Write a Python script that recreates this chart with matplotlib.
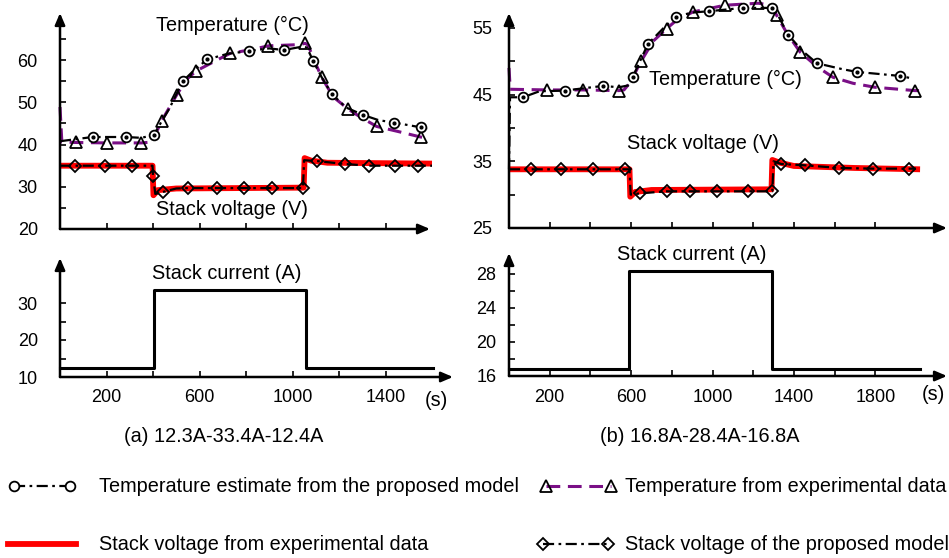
import matplotlib
matplotlib.use("Agg")
import matplotlib.pyplot as plt
from matplotlib.lines import Line2D

plt.rcParams['font.family'] = ['Liberation Sans', 'DejaVu Sans']

# ---------------- data: case (a) ----------------
a_temp_exp_t = [0, 8, 69, 200, 350, 395, 437, 502, 546, 584, 674, 731, 831, 896,
                1032, 1054, 1067, 1089, 1125, 1175, 1240, 1290, 1362, 1462, 1551, 1580]
a_temp_exp_v = [48.9, 40.6, 40.5, 40.4, 40.4, 40.6, 45.6, 51.8, 55.5, 57.4, 60.0, 61.6, 62.6, 63.4,
                63.7, 64.0, 63.6, 60.5, 56.0, 51.3, 48.4, 46.6, 44.3, 43.0, 41.8, 41.5]
a_temp_exp_marks = [69, 200, 350, 437, 502, 584, 731, 896, 1054, 1125, 1240, 1362, 1551]

a_temp_mod_t = [0, 140, 284, 350, 404, 437, 470, 528, 580, 634, 720, 814, 900, 963,
                1040, 1062, 1089, 1125, 1169, 1230, 1305, 1370, 1438, 1551, 1580]
a_temp_mod_v = [40.8, 41.8, 41.8, 41.6, 42.3, 45.5, 48.5, 55.0, 57.8, 60.2, 61.5, 62.2, 62.8, 62.4,
                63.2, 63.0, 59.8, 56.0, 52.0, 48.8, 47.0, 45.8, 45.2, 44.1, 43.8]
a_temp_mod_marks = [140, 284, 404, 528, 634, 814, 963, 1089, 1169, 1305, 1438, 1551]

a_volt_exp_t = [0, 398, 402, 420, 500, 1048, 1052, 1080, 1150, 1600]
a_volt_exp_v = [35.0, 35.0, 28.0, 29.2, 29.6, 29.8, 36.8, 36.2, 35.7, 35.5]

a_volt_mod_t = [0, 64, 194, 308, 398, 400, 410, 444, 500, 551, 674, 792, 910, 1045,
                1050, 1105, 1225, 1330, 1440, 1540, 1600]
a_volt_mod_v = [35.0, 35.0, 35.0, 35.0, 35.0, 32.6, 28.3, 28.8, 29.6, 29.7, 29.7, 29.7, 29.7, 29.7,
                36.3, 36.1, 35.4, 35.0, 35.0, 35.0, 35.0]
a_volt_mod_marks = [64, 194, 308, 400, 444, 551, 674, 792, 910, 1045, 1105, 1225, 1330, 1440, 1540]

a_cur_t = [0, 403, 1060, 1605]
a_cur_v = [12.3, 33.4, 12.4, 12.4]

# ---------------- data: case (b) ----------------
b_temp_exp_t = [0, 6, 186, 364, 540, 565, 595, 649, 708, 775, 825, 905, 1061, 1225, 1290,
                1315, 1366, 1430, 1513, 1592, 1690, 1798, 1995, 2015]
b_temp_exp_v = [49.0, 45.8, 45.7, 45.7, 45.6, 45.7, 46.8, 50.0, 53.0, 54.9, 56.2, 57.4, 58.4, 58.7, 58.4,
                56.9, 54.2, 51.4, 49.2, 47.6, 46.7, 46.1, 45.6, 45.6]
b_temp_exp_marks = [186, 364, 540, 649, 775, 905, 1061, 1225, 1315, 1430, 1592, 1798, 1995]

b_temp_mod_t = [0, 5, 69, 150, 275, 380, 462, 540, 590, 609, 683, 760, 821, 900, 983, 1150,
                1292, 1320, 1371, 1440, 1513, 1640, 1710, 1921, 1985]
b_temp_mod_v = [33.8, 44.6, 44.6, 45.5, 45.6, 46.0, 46.3, 46.1, 46.4, 47.7, 52.6, 55.0, 56.7, 57.3, 57.5, 58.0,
                58.0, 57.0, 54.0, 51.6, 49.7, 48.8, 48.4, 47.8, 47.4]
b_temp_mod_marks = [69, 275, 462, 609, 683, 821, 983, 1150, 1292, 1371, 1513, 1710, 1921]

b_volt_exp_t = [0, 592, 596, 620, 700, 1290, 1294, 1330, 1400, 1700, 2020]
b_volt_exp_v = [33.8, 33.8, 29.7, 30.4, 30.7, 30.8, 35.2, 34.8, 34.3, 34.0, 33.8]

b_volt_mod_t = [0, 108, 256, 415, 569, 592, 598, 645, 775, 890, 1021, 1172, 1294,
                1300, 1337, 1454, 1624, 1788, 1965, 2000]
b_volt_mod_v = [33.8, 33.8, 33.8, 33.8, 33.8, 33.8, 30.0, 30.2, 30.5, 30.5, 30.5, 30.5, 30.5,
                35.0, 34.6, 34.4, 34.0, 33.9, 33.9, 33.9]
b_volt_mod_marks = [108, 256, 415, 569, 645, 775, 890, 1021, 1172, 1294, 1337, 1454, 1624, 1788, 1965]

b_cur_t = [0, 590, 1292, 2020]
b_cur_v = [16.8, 28.4, 16.8, 16.8]

# ---------------- styling ----------------
W, H = 949, 558
PURPLE = '#7a0f86'
RED = '#ff0000'
MODEL_LS = (0, (5, 2, 1.2, 2))
TEMP_LS = (0, (4.5, 2.5))
FS_TICK = 13
FS_NOTE = 14.3
FS_LEG = 14.3


def px_axes(fig, x0, x1, ytop, ybot):
    return fig.add_axes([x0 / W, 1 - ybot / H, (x1 - x0) / W, (ybot - ytop) / H])


def style_axes(ax, ypad):
    for s in ax.spines.values():
        s.set_visible(False)
    ax.tick_params(direction='in', length=4, width=1.2, labelsize=FS_TICK)
    ax.tick_params(axis='y', pad=ypad)
    ax.tick_params(axis='x', pad=9)
    ax.tick_params(which='minor', direction='in', length=4, width=1.2)
    ax.patch.set_alpha(0)
    arrow = dict(arrowstyle='-|>,head_length=0.7,head_width=0.3', lw=1.8, color='black',
                 shrinkA=0, shrinkB=0)
    ax.annotate('', xy=(1, 0), xytext=(0, 0), xycoords='axes fraction', arrowprops=arrow)
    ax.annotate('', xy=(0, 1), xytext=(0, 0), xycoords='axes fraction', arrowprops=arrow)


def idx(ts, marks):
    return [ts.index(m) for m in marks]


def draw_top(ax, te_t, te_v, te_m, tm_t, tm_v, tm_m, ve_t, ve_v, vm_t, vm_v, vm_m):
    ax.plot(ve_t, ve_v, color=RED, lw=4.2, solid_capstyle='butt', zorder=2, clip_on=False)
    ax.plot(vm_t, vm_v, color='black', lw=1.6, ls=MODEL_LS, marker='D', markersize=6.5,
            markerfacecolor='none', markeredgecolor='black', markeredgewidth=1.3,
            markevery=idx(vm_t, vm_m), zorder=3, clip_on=False)
    ax.plot(te_t, te_v, color=PURPLE, lw=2.2, ls=TEMP_LS, marker='^', markersize=8,
            markerfacecolor='none', markeredgecolor='black', markeredgewidth=1.3,
            markevery=idx(te_t, te_m), zorder=3, clip_on=False)
    ax.plot(tm_t, tm_v, color='black', lw=1.6, ls=MODEL_LS, marker='o', markersize=7,
            markerfacecolor='white', markeredgecolor='black', markeredgewidth=1.3,
            markevery=idx(tm_t, tm_m), zorder=4, clip_on=False)
    ax.plot(tm_m, [tm_v[i] for i in idx(tm_t, tm_m)], ls='none', marker='o', markersize=2,
            color='black', zorder=5, clip_on=False)


def draw_current(ax, t, v):
    ax.step(t, v, where='post', color='black', lw=2.2, clip_on=False)


fig = plt.figure(figsize=(W / 100, H / 100), dpi=100)

# ---- case (a) ----
ax1 = px_axes(fig, 60, 430, 13, 229)
ax1.set_xlim(0, 370 / 0.2325)
ax1.set_ylim(20, 20 + 216 / 4.22)
draw_top(ax1, a_temp_exp_t, a_temp_exp_v, a_temp_exp_marks,
         a_temp_mod_t, a_temp_mod_v, a_temp_mod_marks,
         a_volt_exp_t, a_volt_exp_v, a_volt_mod_t, a_volt_mod_v, a_volt_mod_marks)
ax1.set_yticks([20, 30, 40, 50, 60])
ax1.set_yticks([25, 35, 45, 55, 65], minor=True)
ax1.set_xticks(range(200, 1600, 200))
ax1.set_xticklabels([])
style_axes(ax1, 16)
ax1.text(740, 68.3, 'Temperature (°C)', fontsize=FS_NOTE, ha='center', va='center')
ax1.text(740, 24.7, 'Stack voltage (V)', fontsize=FS_NOTE, ha='center', va='center')

ax2 = px_axes(fig, 60, 453, 258, 377)
ax2.set_xlim(0, 393 / 0.2325)
ax2.set_ylim(10, 10 + 119 / 3.7)
draw_current(ax2, a_cur_t, a_cur_v)
ax2.set_yticks([10, 20, 30])
ax2.set_yticks([15, 25], minor=True)
ax2.set_xticks(range(200, 1600, 200))
ax2.set_xticklabels(['200', '', '600', '', '1000', '', '1400'])
style_axes(ax2, 16)
ax2.text(718, 38.1, 'Stack current (A)', fontsize=FS_NOTE, ha='center', va='center')
fig.text(425 / W, 1 - 400 / H, '(s)', fontsize=FS_NOTE, ha='left', va='center')
fig.text(224 / W, 1 - 437 / H, '(a) 12.3A-33.4A-12.4A', fontsize=FS_NOTE, ha='center', va='center')

# ---- case (b) ----
ax3 = px_axes(fig, 509, 947, 13, 228)
ax3.set_xlim(0, 438 / 0.2035)
ax3.set_ylim(25, 25 + 215 / 6.67)
draw_top(ax3, b_temp_exp_t, b_temp_exp_v, b_temp_exp_marks,
         b_temp_mod_t, b_temp_mod_v, b_temp_mod_marks,
         b_volt_exp_t, b_volt_exp_v, b_volt_mod_t, b_volt_mod_v, b_volt_mod_marks)
ax3.set_yticks([25, 35, 45, 55])
ax3.set_yticks([30, 40, 50], minor=True)
ax3.set_xticks(range(200, 2000, 200))
ax3.set_xticklabels([])
style_axes(ax3, 12)
ax3.text(1066, 47.3, 'Temperature (°C)', fontsize=FS_NOTE, ha='center', va='center')
ax3.text(953, 37.7, 'Stack voltage (V)', fontsize=FS_NOTE, ha='center', va='center')

ax4 = px_axes(fig, 509, 947, 253, 376)
ax4.set_xlim(0, 438 / 0.2035)
ax4.set_ylim(16, 16 + 123 / 8.5)
draw_current(ax4, b_cur_t, b_cur_v)
ax4.set_yticks([16, 20, 24, 28])
ax4.set_yticks([18, 22, 26], minor=True)
ax4.set_xticks(range(200, 2000, 200))
ax4.set_xticklabels(['200', '', '600', '', '1000', '', '1400', '', '1800'])
style_axes(ax4, 9)
ax4.text(900, 30.35, 'Stack current (A)', fontsize=FS_NOTE, ha='center', va='center')
fig.text(922 / W, 1 - 395 / H, '(s)', fontsize=FS_NOTE, ha='left', va='center')
fig.text(700 / W, 1 - 437 / H, '(b) 16.8A-28.4A-16.8A', fontsize=FS_NOTE, ha='center', va='center')

# ---- legend ----
h_tmod = Line2D([], [], color='black', lw=1.6, ls=MODEL_LS, marker='o', markersize=7,
                markerfacecolor='white', markeredgecolor='black', markeredgewidth=1.3)
h_texp = Line2D([], [], color=PURPLE, lw=2.2, ls=TEMP_LS, marker='^', markersize=8,
                markerfacecolor='none', markeredgecolor='black', markeredgewidth=1.3)
h_vexp = Line2D([], [], color=RED, lw=4.2)
h_vmod = Line2D([], [], color='black', lw=1.6, ls=MODEL_LS, marker='D', markersize=6.5,
                markerfacecolor='none', markeredgecolor='black', markeredgewidth=1.3)

em = FS_LEG * 100 / 72
entries = [
    (h_tmod, 'Temperature estimate from the proposed model', 8, 487, 2, 68, 99),
    (h_texp, 'Temperature from experimental data', 540, 487, 2, 77, 625),
    (h_vexp, 'Stack voltage from experimental data', 8, 545, 1, 68, 99),
    (h_vmod, 'Stack voltage of the proposed model', 537, 545, 2, 77, 625),
]
for h, lab, x, y, n, hlen, xtext in entries:
    fig.legend(handles=[h], labels=[lab], loc='center left',
               bbox_to_anchor=(x / W, 1 - y / H), frameon=False, fontsize=FS_LEG,
               numpoints=n, handlelength=hlen / em,
               handletextpad=(xtext - x - hlen) / em, borderaxespad=0, borderpad=0)

fig.savefig('out.png', dpi=100)
